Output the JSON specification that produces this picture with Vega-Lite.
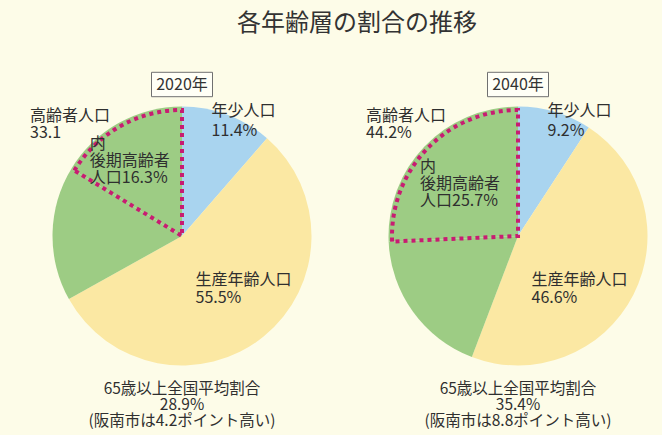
{
  "$schema": "https://vega.github.io/schema/vega-lite/v6.json",
  "width": 662,
  "height": 398,
  "autosize": {"type": "none"},
  "padding": {"top": 37, "left": 0, "right": 0, "bottom": 0},
  "background": "#fdfce8",
  "title": {"text": "各年齢層の割合の推移", "fontSize": 24, "font": "Noto Sans CJK JP", "fontWeight": "normal", "color": "#333333", "anchor": "middle", "dx": 26, "offset": 1},
  "config": {"view": {"stroke": null}, "font": "Noto Sans CJK JP"},
  "datasets": {
    "slices": [
      {"year": "2020年", "group": "年少人口", "value": 11.4, "label": "年少人口\n11.4%"},
      {"year": "2020年", "group": "生産年齢人口", "value": 55.5, "label": "生産年齢人口\n55.5%"},
      {"year": "2020年", "group": "前期高齢者人口", "value": 16.8, "label": "高齢者人口\n33.1"},
      {"year": "2020年", "group": "後期高齢者人口", "value": 16.3, "label": "内\n後期高齢者\n人口16.3%"},
      {"year": "2040年", "group": "年少人口", "value": 9.2, "label": "年少人口\n9.2%"},
      {"year": "2040年", "group": "生産年齢人口", "value": 46.6, "label": "生産年齢人口\n46.6%"},
      {"year": "2040年", "group": "前期高齢者人口", "value": 18.5, "label": "高齢者人口\n44.2%"},
      {"year": "2040年", "group": "後期高齢者人口", "value": 25.7, "label": "内\n後期高齢者\n人口25.7%"}
    ],
    "years": [
      {"year": "2020年", "note": "65歳以上全国平均割合\n28.9%\n(阪南市は4.2ポイント高い)"},
      {"year": "2040年", "note": "65歳以上全国平均割合\n35.4%\n(阪南市は8.8ポイント高い)"}
    ]
  },
  "encoding": {
    "x": {"field": "year", "type": "nominal", "scale": {"type": "point", "padding": 0.4851, "align": 0.5583}, "axis": null}
  },
  "layer": [
    {
      "data": {"name": "slices"},
      "transform": [
        {"window": [{"op": "row_number", "as": "idx"}], "groupby": ["year"]},
        {"stack": "value", "groupby": ["year"], "sort": [{"field": "idx", "order": "ascending"}], "as": ["v0", "v1"]}
      ],
      "encoding": {
        "theta": {"field": "v0", "type": "quantitative", "scale": {"domain": [0, 100]}}
      },
      "layer": [
        {
          "mark": {"type": "arc", "radius": 129.5},
          "encoding": {
            "theta2": {"field": "v1"},
            "color": {"field": "group", "type": "nominal", "legend": null,
              "scale": {"domain": ["年少人口", "生産年齢人口", "前期高齢者人口", "後期高齢者人口"], "range": ["#a9d4ef", "#fbe8a3", "#9dcc84", "#9dcc84"]}}
          }
        },
        {
          "transform": [{"filter": "datum.group === '後期高齢者人口'"}],
          "mark": {"type": "arc", "radius": 126, "fill": "#ffffff", "fillOpacity": 0, "stroke": "#c81c72", "strokeWidth": 4, "strokeDash": [4, 4], "strokeCap": "butt"},
          "encoding": {"theta2": {"field": "v1"}}
        },
        {
          "transform": [{"filter": "datum.group === '年少人口'"}],
          "mark": {"type": "text", "radius": 133, "dx": 29.5, "dy": 0, "align": "left", "baseline": "top", "fontSize": 16, "lineHeight": 20, "lineBreak": "\n", "color": "#2f2f2f"},
          "encoding": {"text": {"field": "label"}}
        },
        {
          "transform": [{"filter": "datum.group === '生産年齢人口'"}],
          "mark": {"type": "text", "radius": 0, "dx": 13.5, "dy": 36.3, "align": "left", "baseline": "top", "fontSize": 16, "lineHeight": 18, "lineBreak": "\n", "color": "#2f2f2f"},
          "encoding": {"text": {"field": "label"}}
        },
        {
          "transform": [{"filter": "datum.group === '前期高齢者人口'"}],
          "mark": {"type": "text", "radius": 0, "dx": -152, "dy": -128, "align": "left", "baseline": "top", "fontSize": 16, "lineHeight": 17, "lineBreak": "\n", "color": "#2f2f2f"},
          "encoding": {"text": {"field": "label"}}
        },
        {
          "transform": [{"filter": "datum.group === '後期高齢者人口'"}],
          "mark": {"type": "text", "radius": 40, "dx": -58, "dy": -79, "align": "left", "baseline": "top", "fontSize": 16, "lineHeight": 17, "lineBreak": "\n", "color": "#2f2f2f"},
          "encoding": {"text": {"field": "label"}}
        }
      ]
    },
    {
      "data": {"name": "years"},
      "layer": [
        {
          "mark": {"type": "point", "shape": "M-1,-0.4L1,-0.4L1,0.4L-1,0.4Z", "size": 3721, "filled": true, "fill": "#fffff6", "fillOpacity": 1, "stroke": "#707070", "strokeWidth": 1, "opacity": 1},
          "encoding": {"y": {"value": 47.5}}
        },
        {
          "mark": {"type": "text", "fontSize": 16, "baseline": "middle", "align": "center", "color": "#333333"},
          "encoding": {"y": {"value": 47.5}, "text": {"field": "year"}}
        },
        {
          "mark": {"type": "text", "theta": 3.14159265, "radius": 145.5, "baseline": "top", "align": "center", "fontSize": 15.5, "lineHeight": 16, "lineBreak": "\n", "color": "#2f2f2f"},
          "encoding": {"text": {"field": "note"}}
        }
      ]
    }
  ]
}
